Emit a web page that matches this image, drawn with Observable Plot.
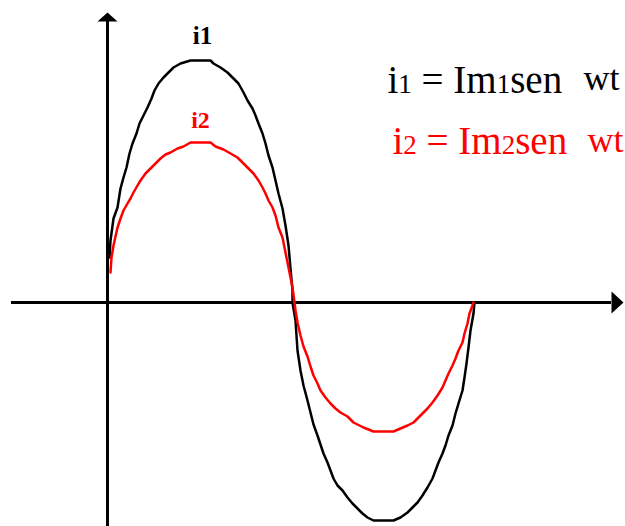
<!DOCTYPE html>
<html>
<head>
<meta charset="utf-8">
<script src="https://cdn.jsdelivr.net/npm/d3@7"></script>
<script src="https://cdn.jsdelivr.net/npm/@observablehq/plot@0.6"></script>
<style>
  html, body { margin: 0; padding: 0; background: #fff; }
  #chart svg { display: block; }
</style>
</head>
<body>
<div id="chart"></div>
<script>
// Phase (horizontal units from the vertical axis) and value (units above the horizontal axis)
const i1Phase = [2,3,6,10,13,16,19,22,25,29,32,36,40,44,47,51,56,61,66,73,83,93,103,106,113,120,126,131,136,140,145,148,151,155,158,161,165,168,171,175,178,181,183,185,185,188,190,193,196,200,203,206,210,213,216,220,223,226,230,235,240,245,250,255,260,266,276,286,293,300,305,310,315,320,325,328,331,335,338,341,345,348,351,355,357,359,361,363,366,367];
const i1Value = [45,62,84,95,114,125,135,149,159,169,179,187,195,204,212,219,225,230,235,239,242,242,242,239,235,230,224,219,210,202,194,187,179,169,159,147,135,122,109,94,77,57,34,12,0,-18,-48,-68,-83,-98,-110,-122,-133,-142,-151,-160,-168,-176,-183,-188,-195,-201,-206,-211,-215,-218,-218,-218,-215,-210,-205,-200,-193,-185,-176,-168,-160,-151,-143,-133,-123,-111,-101,-88,-75,-61,-45,-28,-11,0];

const i2Phase = [3,4,6,10,13,16,20,23,26,30,33,38,43,48,53,58,63,70,76,83,93,103,108,116,123,130,136,141,146,151,155,158,161,165,168,171,175,177,179,181,183,185,187,188,190,193,196,200,203,206,210,213,218,223,228,233,240,246,256,266,276,286,293,300,306,313,320,325,330,335,338,341,345,348,351,355,357,360,362,365,366];
const i2Value = [30,45,57,75,84,92,99,104,110,117,122,129,134,139,144,148,150,154,156,160,160,160,156,153,149,145,139,134,129,122,115,109,102,95,87,75,65,55,45,35,25,15,0,-8,-20,-33,-44,-54,-64,-73,-81,-88,-95,-101,-106,-110,-114,-120,-125,-129,-129,-129,-126,-123,-120,-113,-106,-100,-93,-85,-78,-71,-63,-56,-48,-40,-31,-21,-11,-3,0];

// Axis extents (same units)
const xAxisExtent = [-96, 504];
const yAxisExtent = [-224, 281];

// Labels
const curveLabels = ["i1", "i2"];
const equations = ["i1 = Im1sen", "i2 = Im2sen"];
const omegaT = "wt";
const colors = ["#000000", "#ff0000"];

const i1 = i1Phase.map((p, k) => ({phase: p, value: i1Value[k]}));
const i2 = i2Phase.map((p, k) => ({phase: p, value: i2Value[k]}));

const yArrowSymbol = {draw(ctx) { ctx.moveTo(-10, 0); ctx.lineTo(10, 0); ctx.lineTo(0, -9); ctx.closePath(); }};
const xArrowSymbol = {draw(ctx) { ctx.moveTo(0, -11); ctx.lineTo(0, 11); ctx.lineTo(12, 0); ctx.closePath(); }};

const eqFont = "Liberation Serif, Times New Roman, serif";

const svg = Plot.plot({
  width: 625,
  height: 526,
  margin: 0,
  style: {background: "#fff"},
  x: {domain: [-107, 518], axis: null},
  y: {domain: [-224, 302], axis: null},
  marks: [
    Plot.ruleY([0], {x1: xAxisExtent[0], x2: xAxisExtent[1], stroke: "#000", strokeWidth: 3}),
    Plot.ruleX([0], {y1: yAxisExtent[0], y2: yAxisExtent[1], stroke: "#000", strokeWidth: 3}),
    Plot.dot([{x: 0, y: yAxisExtent[1]}], {x: "x", y: "y", symbol: yArrowSymbol, fill: "#000", stroke: null}),
    Plot.dot([{x: xAxisExtent[1], y: 0}], {x: "x", y: "y", symbol: xArrowSymbol, fill: "#000", stroke: null}),
    Plot.line(i1, {x: "phase", y: "value", stroke: colors[0], strokeWidth: 2.5}),
    Plot.line(i2, {x: "phase", y: "value", stroke: colors[1], strokeWidth: 2.5}),
    Plot.text([curveLabels[0]], {x: 95, y: 259, text: d => d, fill: colors[0], fontSize: 25, fontWeight: "bold", fontFamily: eqFont, textAnchor: "middle", lineAnchor: "bottom"}),
    Plot.text([curveLabels[1]], {x: 93, y: 175, text: d => d, fill: colors[1], fontSize: 24, fontWeight: "bold", fontFamily: eqFont, textAnchor: "middle", lineAnchor: "bottom"}),
    Plot.text([equations[0]], {x: 280, y: 210, text: d => d, fill: colors[0], fontSize: 39, fontFamily: eqFont, textAnchor: "start", lineAnchor: "bottom"}),
    Plot.text([equations[1]], {x: 285, y: 149, text: d => d, fill: colors[1], fontSize: 39, fontFamily: eqFont, textAnchor: "start", lineAnchor: "bottom"}),
    Plot.text([omegaT], {x: 476, y: 213, text: d => d, fill: colors[0], fontSize: 36, fontFamily: eqFont, textAnchor: "start", lineAnchor: "bottom"}),
    Plot.text([omegaT], {x: 480, y: 151, text: d => d, fill: colors[1], fontSize: 36, fontFamily: eqFont, textAnchor: "start", lineAnchor: "bottom"})
  ]
});

// Render the index digits (1, 2) of the equations as small digits on the baseline
d3.select(svg).selectAll("text")
  .filter(function() { return equations.includes(this.textContent); })
  .each(function() {
    const t = d3.select(this);
    const s = this.textContent;
    t.text(null);
    for (const part of s.split(/(\d)/)) {
      if (!part) continue;
      const sp = t.append("tspan").text(part);
      if (/\d/.test(part)) sp.attr("font-size", 27);
    }
  });

document.getElementById("chart").append(svg);
</script>
</body>
</html>
